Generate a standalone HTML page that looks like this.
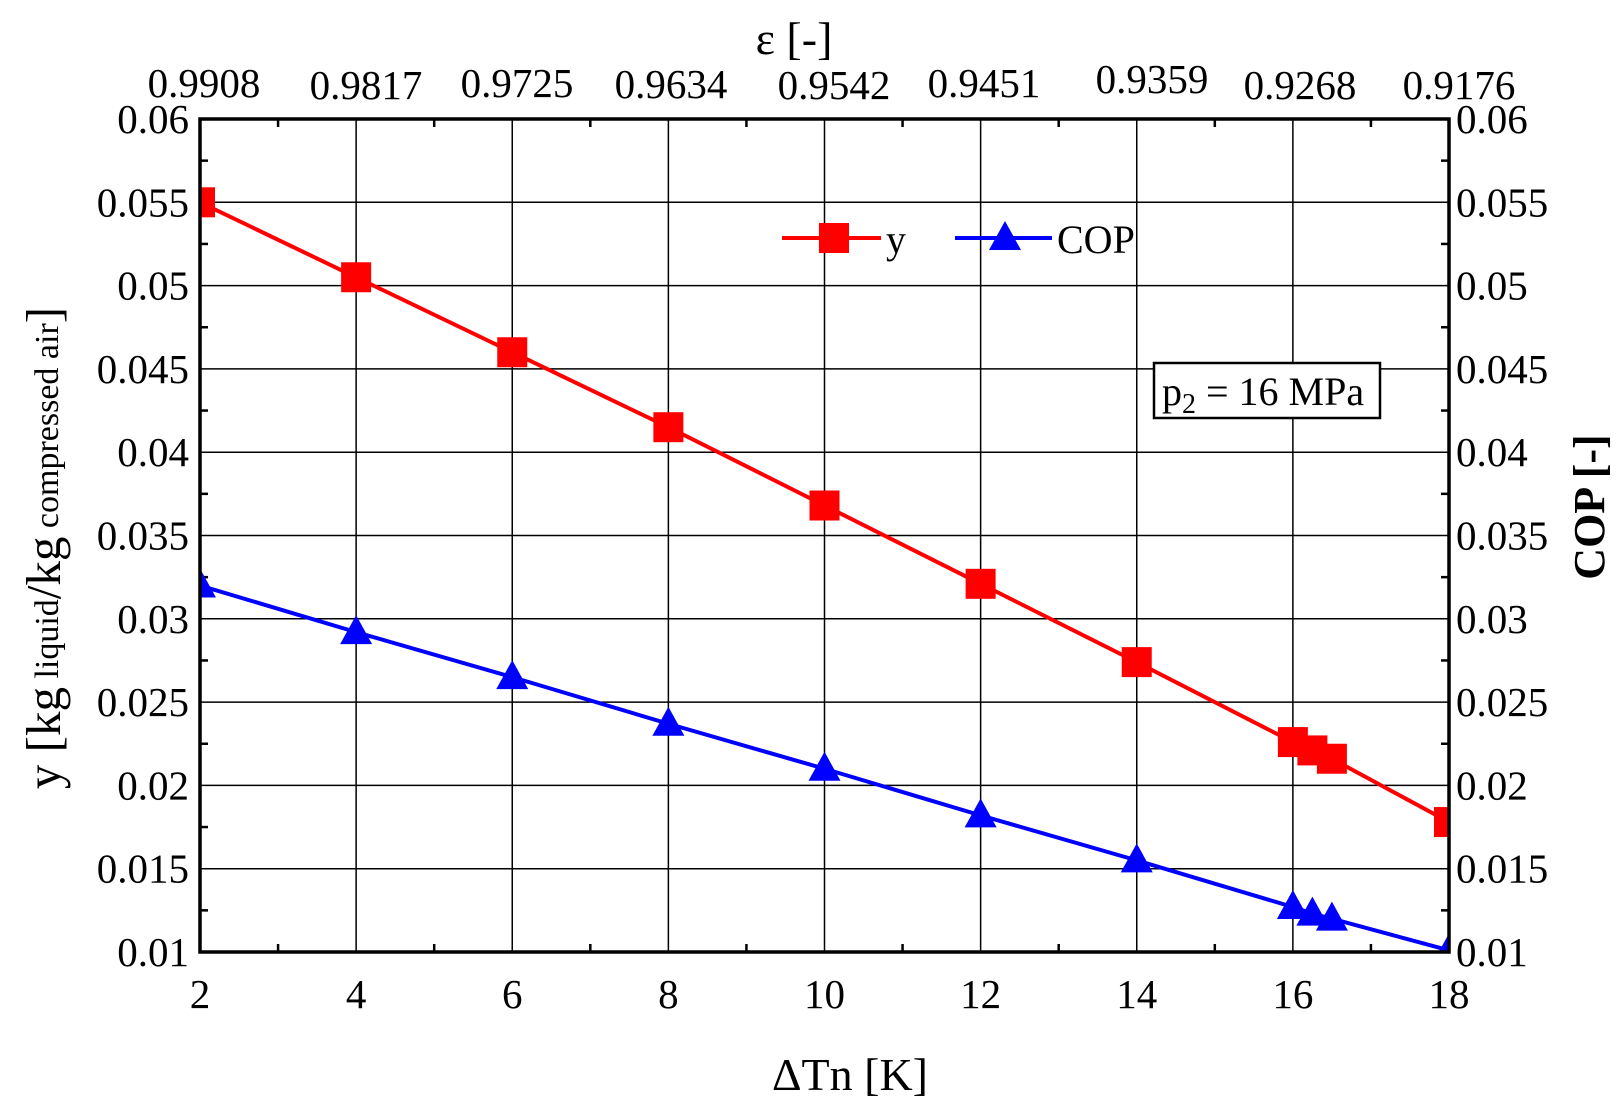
<!DOCTYPE html>
<html><head><meta charset="utf-8"><style>
html,body{margin:0;padding:0;background:#fff;}
svg{display:block;font-family:"Liberation Serif",serif;}
</style></head><body>
<svg id="s" width="1622" height="1111" viewBox="0 0 1622 1111" xmlns="http://www.w3.org/2000/svg"></svg>
<script>
const s=document.getElementById('s');
const L=200,R=1449,T=119,B=952;
const X=v=>L+(v-2)*(R-L)/16;
const Y=v=>B-(v-0.01)*(B-T)/0.05;
let h='';
h+='<defs><clipPath id="c"><rect x="'+L+'" y="'+T+'" width="'+(R-L)+'" height="'+(B-T)+'"/></clipPath></defs>';
for(let v=4;v<18;v+=2)h+=`<line x1="${X(v)}" y1="${T}" x2="${X(v)}" y2="${B}" stroke="#000" stroke-width="1.5"/>`;
for(let i=1;i<10;i++){const y=Y(0.01+i*0.005);h+=`<line x1="${L}" y1="${y}" x2="${R}" y2="${y}" stroke="#000" stroke-width="1.5"/>`;}
for(let v=3;v<18;v+=2){h+=`<line x1="${X(v)}" y1="${B}" x2="${X(v)}" y2="${B-8}" stroke="#000" stroke-width="2.5"/><line x1="${X(v)}" y1="${T}" x2="${X(v)}" y2="${T+8}" stroke="#000" stroke-width="2.5"/>`;}
for(let i=0;i<10;i++){const y=Y(0.0125+i*0.005);h+=`<line x1="${L}" y1="${y}" x2="${L+8}" y2="${y}" stroke="#000" stroke-width="2.5"/><line x1="${R}" y1="${y}" x2="${R-8}" y2="${y}" stroke="#000" stroke-width="2.5"/>`;}
const xs=[2,4,6,8,10,12,14,16,16.25,16.5,18];
const ya=[0.055,0.0505,0.046,0.0415,0.0368,0.0321,0.0274,0.0226,0.0221,0.0216,0.0178];
const ca=[0.032,0.0292,0.0265,0.0237,0.021,0.0182,0.0155,0.0127,0.0123,0.0120,0.0101];
const pts=a=>xs.map((x,i)=>X(x)+','+Y(a[i])).join(' ');
h+='<g clip-path="url(#c)">';
h+=`<polyline points="${pts(ya)}" fill="none" stroke="#f00" stroke-width="4"/>`;
h+=`<polyline points="${pts(ca)}" fill="none" stroke="#00f" stroke-width="4"/>`;
const sq=(x,y)=>`<rect x="${x-15}" y="${y-15}" width="30" height="30" fill="#f00"/>`;
const tr=(x,y)=>`<polygon points="${x},${y-17} ${x-16},${y+12} ${x+16},${y+12}" fill="#00f"/>`;
xs.forEach((x,i)=>{h+=sq(X(x),Y(ya[i]));h+=tr(X(x),Y(ca[i]));});
h+='</g>';
h+=`<rect x="${L}" y="${T}" width="${R-L}" height="${B-T}" fill="none" stroke="#000" stroke-width="3.5"/>`;
for(let v=2;v<=18;v+=2)h+=`<text x="${X(v)}" y="1008" font-size="41" text-anchor="middle">${v}</text>`;
const yl=['0.01','0.015','0.02','0.025','0.03','0.035','0.04','0.045','0.05','0.055','0.06'];
yl.forEach((t,i)=>{const y=Y(0.01+i*0.005)+14;h+=`<text x="189" y="${y}" font-size="41" text-anchor="end">${t}</text><text x="1456" y="${y}" font-size="41">${t}</text>`;});
const tl=[['0.9908',204,97],['0.9817',366,99],['0.9725',517,97],['0.9634',671,98],['0.9542',834,99],['0.9451',984,97],['0.9359',1152,93],['0.9268',1300,99],['0.9176',1459,99]];
tl.forEach(a=>h+=`<text x="${a[1]}" y="${a[2]}" font-size="41" text-anchor="middle">${a[0]}</text>`);
h+=`<text x="794" y="54" font-size="46" text-anchor="middle">ε [-]</text>`;
h+=`<text x="850" y="1090" font-size="46" text-anchor="middle">ΔTn [K]</text>`;
h+=`<text transform="translate(60,548) rotate(-90)" font-size="49" text-anchor="middle">y [kg<tspan font-size="34" dy="-2"> liquid</tspan><tspan dy="2">/kg</tspan><tspan font-size="34" dy="-2"> compressed air</tspan><tspan dy="2">]</tspan></text>`;
h+=`<text transform="translate(1604,507) rotate(-90)" font-size="44" font-weight="bold" text-anchor="middle">COP [-]</text>`;
h+=`<line x1="782" y1="238" x2="881" y2="238" stroke="#f00" stroke-width="4"/>`+sq(834,238)+`<text x="886" y="253" font-size="40">y</text>`;
h+=`<line x1="955" y1="238" x2="1052" y2="238" stroke="#00f" stroke-width="4"/>`+tr(1005,238)+`<text x="1057" y="253" font-size="40">COP</text>`;
h+=`<rect x="1154" y="363" width="226" height="55" fill="#fff" stroke="#000" stroke-width="2.5"/>`;
h+=`<text x="1162" y="405" font-size="40">p<tspan font-size="28" dy="8">2</tspan><tspan dy="-8"> = 16 MPa</tspan></text>`;
s.innerHTML=h;
</script>
</body></html>
